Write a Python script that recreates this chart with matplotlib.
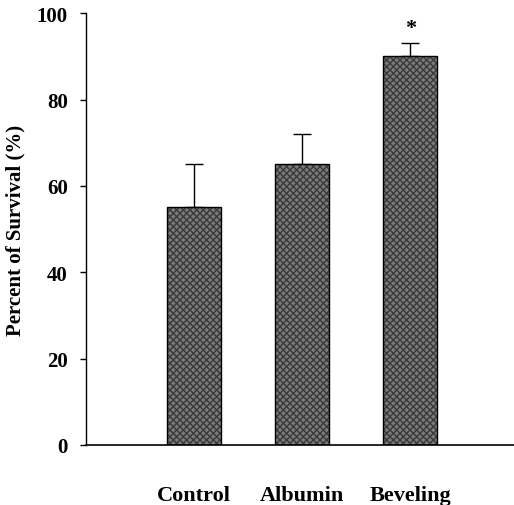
import matplotlib.pyplot as plt
import numpy as np

# Data
groups = ['Control', 'Albumin', 'Beveling']
survival = np.array([55, 65, 90])
err_upper = np.array([10, 7, 3])
yticks = [0, 20, 40, 60, 80, 100]

plt.rcParams['font.family'] = ['Liberation Serif', 'DejaVu Serif']
plt.rcParams['font.weight'] = 'bold'

fig = plt.figure(figsize=(5.14, 5.06), dpi=100)
ax = fig.add_axes([0.167, 0.1186, 0.833, 0.8534])

x = np.arange(1, len(groups) + 1)
yerr = np.vstack([np.zeros_like(err_upper), err_upper])

# shaded bars (dark grey with a fine cross pattern)
ax.bar(x, survival, width=0.5, color='#7a7a7a', edgecolor='#3a3a3a',
       hatch='xxxxx', linewidth=0, zorder=2)
ax.bar(x, survival, width=0.5, fill=False, edgecolor='black', linewidth=1.0, zorder=3)
ax.errorbar(x, survival, yerr=yerr, fmt='none', ecolor='black',
            elinewidth=1.0, capsize=6.5, capthick=1.0, zorder=1)

# significance marker
ax.text(x[2], survival[2] + err_upper[2] + 3.5, '*', ha='center', va='center',
        fontsize=16, fontweight='bold')

ax.set_xlim(0, 3.96)
ax.set_ylim(0, 100)
ax.set_yticks(yticks)
ax.set_xticks(x)
ax.set_xticklabels(groups, fontsize=16, fontweight='bold')
ax.tick_params(axis='x', length=0, pad=29)
ax.tick_params(axis='y', direction='out', length=4, width=1, pad=9, labelsize=15)
ax.set_ylabel('Percent of Survival (%)', fontsize=15, fontweight='bold')
ax.yaxis.set_label_coords(-0.142, 0.5)

ax.spines['top'].set_visible(False)
ax.spines['right'].set_visible(False)
ax.spines['left'].set_linewidth(1.0)
ax.spines['bottom'].set_linewidth(1.2)

fig.savefig('out.png', dpi=100)
